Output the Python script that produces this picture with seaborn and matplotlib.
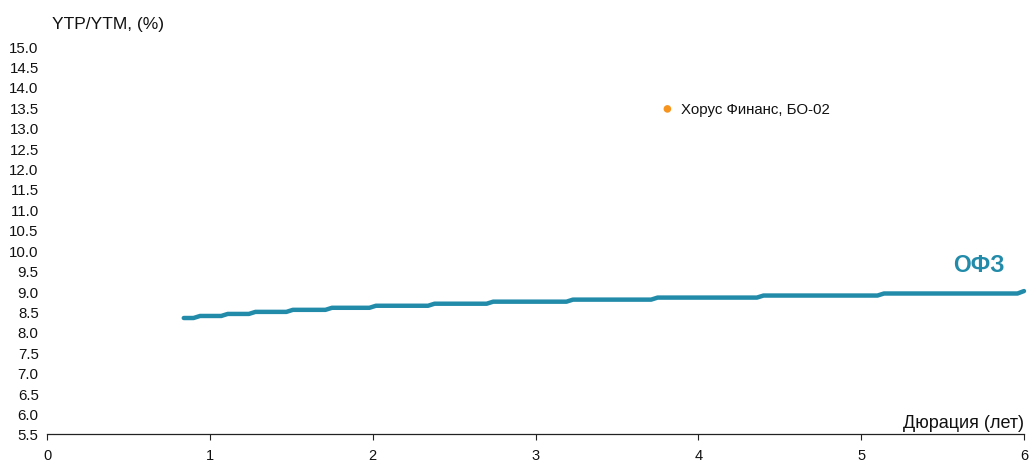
import matplotlib
matplotlib.use("Agg")
import matplotlib.pyplot as plt
import seaborn as sns
import numpy as np
import pandas as pd

# OFZ curve (duration, yield)
ofz_duration = [0.84, 0.90, 0.94, 1.07, 1.11, 1.24, 1.28, 1.47, 1.51, 1.71, 1.75,
                1.98, 2.02, 2.34, 2.38, 2.70, 2.74, 3.19, 3.23, 3.71, 3.75,
                4.36, 4.40, 5.10, 5.14, 5.96, 6.00]
ofz_yield = [8.34, 8.34, 8.39, 8.39, 8.44, 8.44, 8.49, 8.49, 8.54, 8.54, 8.59,
             8.59, 8.64, 8.64, 8.69, 8.69, 8.74, 8.74, 8.79, 8.79, 8.84,
             8.84, 8.89, 8.89, 8.94, 8.94, 9.00]

bond_names = ["Хорус Финанс, БО-02"]
bond_duration = [3.81]
bond_yield = [13.46]

x_ticks = [0, 1, 2, 3, 4, 5, 6]
y_ticks = list(np.arange(5.5, 15.01, 0.5))

teal = "#228BAA"
orange = "#F7941D"

sns.set_theme(style="white")
plt.rcParams['font.family'] = ['Liberation Sans', 'DejaVu Sans']

fig = plt.figure(figsize=(10.29, 4.64), dpi=100)
ax = fig.add_axes([47/1029, 29/464, (1024-47)/1029, (435-47)/464])

df_ofz = pd.DataFrame({"d": ofz_duration, "y": ofz_yield})
df_bond = pd.DataFrame({"d": bond_duration, "y": bond_yield, "name": bond_names})

sns.lineplot(data=df_ofz, x="d", y="y", ax=ax, color=teal, linewidth=3.2,
             solid_capstyle="round", clip_on=False, zorder=3)
sns.scatterplot(data=df_bond, x="d", y="y", ax=ax, color=orange, s=30,
                edgecolor="none", zorder=4)
for _, r in df_bond.iterrows():
    ax.text(r["d"] + 0.085, r["y"], r["name"], fontsize=10.8, va="center",
            ha="left", color="#111111")

ax.text(5.725, 9.65, "ОФЗ", fontsize=16.5, fontweight="bold", color=teal,
        ha="center", va="center")

ax.set_xlim(0, 6)
ax.set_ylim(5.5, 15.0)
ax.set_xticks(x_ticks)
ax.set_xticklabels([str(t) for t in x_ticks])
ax.set_yticks(y_ticks)
ax.set_yticklabels([f"{t:.1f}" for t in y_ticks])
ax.set_xlabel("")
ax.set_ylabel("")

for s in ["top", "right", "left"]:
    ax.spines[s].set_visible(False)
ax.spines["bottom"].set_color("#222222")
ax.spines["bottom"].set_linewidth(0.9)

ax.tick_params(axis="x", direction="out", length=4, width=0.8, color="#222222",
               labelsize=10.5, pad=6, labelcolor="#111111", bottom=True)
ax.tick_params(axis="y", length=0, labelsize=10.8, pad=6, labelcolor="#111111")

fig.text(52/1029, 1 - 24/464, "YTP/YTM, (%)", fontsize=12.5, ha="left",
         va="center", color="#111111")
ax.text(6.0, 5.58, "Дюрация (лет)", fontsize=13, ha="right", va="bottom",
        color="#111111")

fig.savefig("out.png", dpi=100)
